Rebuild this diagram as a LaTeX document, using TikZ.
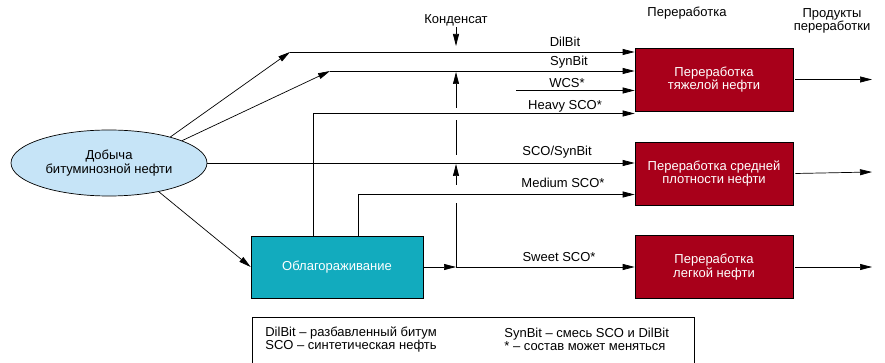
\documentclass[tikz,border=0pt]{standalone}
\usepackage{fontspec}
\setmainfont{Liberation Sans}
\usetikzlibrary{shapes.geometric,arrows.meta}
\definecolor{oilred}{HTML}{A8001A}
\definecolor{upgteal}{HTML}{12ABBE}
\definecolor{oilblue}{HTML}{C6E4F7}

\begin{document}
\begin{tikzpicture}[x=1pt, y=-1pt, line width=0.7pt,
    >={Triangle[length=12pt,width=6pt]},
    every node/.style={font=\fontsize{13}{13.5}\selectfont, inner sep=1pt},
    plant/.style={rectangle, draw, fill=oilred, text=white, align=center,
      minimum width=158pt, minimum height=63pt},
    upgbox/.style={rectangle, draw, fill=upgteal, text=white,
      minimum width=172pt, minimum height=62pt},
    mine/.style={ellipse, draw, fill=oilblue, align=center,
      minimum width=196pt, minimum height=66pt}]
    \useasboundingbox (0,0) rectangle (885,363);

    \node[mine] (E) at (109,163) {Добыча\\битуминозной нефти};
    \node[upgbox] (U) at (337,267) {Облагораживание};
    \node[plant] (H) at (714,79.5) {Переработка\\тяжелой нефти};
    \node[plant] (M) at (714,173.5) {Переработка средней\\плотности нефти};
    \node[plant] (L) at (714,267) {Переработка\\легкой нефти};

    \node (T1) at (687,13) {Переработка};
    \node[align=center] (T2) at (832,21) {Продукты\\переработки};
    \node (K) at (456,20) {Конденсат};

    % raw bitumen streams
    \coordinate (d0) at (290,52);
    \coordinate (s0) at (330,71);
    \coordinate (w0) at (516,90.5);
    \draw[->] (E.23) -- (d0);
    \draw[->] (d0) -- (d0 -| H.west);
    \draw[->] (E.17) -- (s0);
    \draw[->] (s0) -- (s0 -| H.west);
    \draw[->] (w0) -- (w0 -| H.west);
    \draw[->] (E.east) -- (E.east -| M.west);
    \draw[->] (E.-30) -- (U.west);

    % upgraded streams
    \coordinate (h0) at (313,113.5);
    \coordinate (m0) at (358,194.5);
    \coordinate (j) at (456,267);
    \draw[->] (h0 |- U.north) -- (h0) -- (h0 -| H.west);
    \draw[->] (m0 |- U.north) -- (m0) -- (m0 -| M.west);
    \draw[->] (U.east) -- (j);
    \draw[->] (j) -- (L.west);

    % condensate
    \draw[->] (K.south) -- (456,46);
    \draw (j) -- (456,203);
    \draw[->] (456,185) -- (456,164);
    \draw (456,155) -- (456,120);
    \draw[->] (456,108) -- (456,72);

    % products
    \draw[->] (H.east) ++(2,0) -- (872,79.5);
    \draw[->] (M.east) ++(2,0) -- (872,172);
    \draw[->] (L.east) ++(2,0) -- (872,267);

    \node (lD) at (565,42) {DilBit};
    \node (lS) at (569,62) {SynBit};
    \node (lW) at (567,83) {WCS*};
    \node (lH) at (565,106) {Heavy SCO*};
    \node (lSS) at (557,152) {SCO/SynBit};
    \node (lM) at (563,183) {Medium SCO*};
    \node (lSw) at (559,257) {Sweet SCO*};

    % legend
    \draw (252,366) -- (252,317) -- (694,317) -- (694,366);
    \node[align=left, anchor=west] (g1) at (264,339.5)
      {DilBit – разбавленный битум\\SCO – синтетическая нефть};
    \node[align=left, anchor=west] (g2) at (503,339.5)
      {SynBit – смесь SCO и DilBit\\* – состав может меняться};
\end{tikzpicture}
\end{document}
